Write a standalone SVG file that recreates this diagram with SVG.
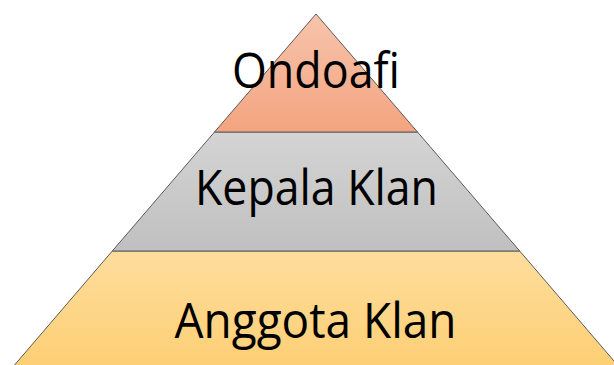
<svg xmlns="http://www.w3.org/2000/svg" width="614" height="365" viewBox="0 0 614 365">
<defs>
<linearGradient id="gTop" x1="0" y1="0" x2="0" y2="1"><stop offset="0" stop-color="#f7c4ad"/><stop offset="1" stop-color="#f4a47f"/></linearGradient>
<linearGradient id="gMid" x1="0" y1="0" x2="0" y2="1"><stop offset="0" stop-color="#d4d4d4"/><stop offset="1" stop-color="#c0c0c0"/></linearGradient>
<linearGradient id="gBot" x1="0" y1="0" x2="0" y2="1"><stop offset="0" stop-color="#fedd9c"/><stop offset="1" stop-color="#fdcf75"/></linearGradient>
<style>
.band{stroke:#5a5a5a;stroke-width:1}
.lbl{font-family:"Open Sans","Liberation Sans",sans-serif;font-size:49px;fill:#000;text-anchor:middle}
</style>
</defs>
<rect width="614" height="365" fill="#fff"/>
<g id="anggota">
<polygon class="band" fill="url(#gBot)" points="112.3,251 519.7,251 620,368 12,368"/>
<text class="lbl" x="315.5" y="338" textLength="282" lengthAdjust="spacingAndGlyphs">Anggota Klan</text>
</g>
<g id="kepala">
<polygon class="band" fill="url(#gMid)" points="214.5,132 417.5,132 519.7,251 112.3,251"/>
<text class="lbl" x="316.5" y="205" textLength="243" lengthAdjust="spacingAndGlyphs">Kepala Klan</text>
</g>
<g id="ondoafi">
<polygon class="band" fill="url(#gTop)" points="316,14 417.5,132 214.5,132"/>
<text class="lbl" x="316" y="88" textLength="168" lengthAdjust="spacingAndGlyphs">Ondoafi</text>
</g>
<g id="connectors"/>
</svg>
